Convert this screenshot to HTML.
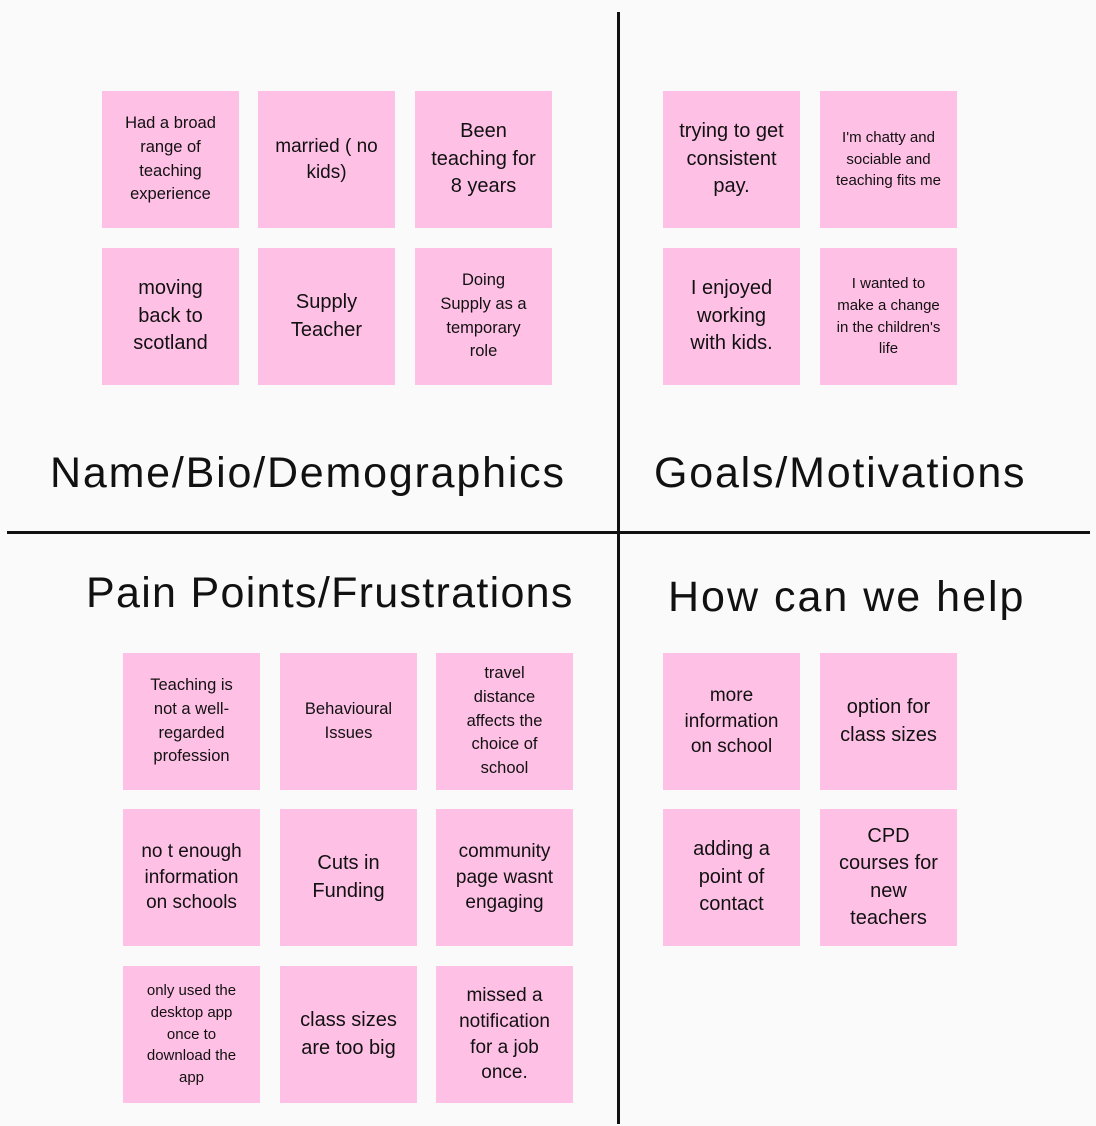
<!DOCTYPE html>
<html><head><meta charset="utf-8"><style>
body{margin:0;background:#fafafa;width:1096px;height:1126px;position:relative;overflow:hidden;font-family:"Liberation Sans",sans-serif;color:#111}
.n{position:absolute;width:137px;height:137px;background:#ffc0e5;display:flex;align-items:center;justify-content:center;text-align:center;box-sizing:border-box;padding:0 14px;line-height:1.3}
.s{font-size:16.5px;line-height:1.45}.m{font-size:19px;line-height:1.35}.l{font-size:20px;line-height:1.37}.xs{font-size:15px;line-height:1.45;padding:0 10px}
.t{position:absolute;font-size:43px;white-space:nowrap;line-height:1;letter-spacing:1.8px}
.v{position:absolute;left:617px;top:12px;width:3px;height:1112px;background:#111}
.h{position:absolute;left:7px;top:531px;width:1083px;height:3px;background:#111}
</style></head><body>
<div class="v"></div><div class="h"></div>
<div class="n s" style="left:102px;top:91px">Had a broad range of teaching experience</div>
<div class="n m" style="left:258px;top:91px">married ( no kids)</div>
<div class="n l" style="left:415px;top:91px">Been teaching for 8 years</div>
<div class="n l" style="left:102px;top:248px;padding:0 22px">moving back to scotland</div>
<div class="n l" style="left:258px;top:248px">Supply Teacher</div>
<div class="n s" style="left:415px;top:248px;padding:0 20px">Doing Supply as a temporary role</div>
<div class="n l" style="left:663px;top:91px">trying to get consistent pay.</div>
<div class="n xs" style="left:820px;top:91px;padding:0 12px">I'm chatty and sociable and teaching fits me</div>
<div class="n l" style="left:663px;top:248px;padding:0 20px">I enjoyed working with kids.</div>
<div class="n xs" style="left:820px;top:248px;padding:0 14px">I wanted to make a change in the children's life</div>
<div class="t" style="left:50px;top:452px">Name/Bio/Demographics</div>
<div class="t" style="left:654px;top:452px">Goals/Motivations</div>
<div class="t" style="left:86px;top:572px;letter-spacing:1.3px">Pain Points/Frustrations</div>
<div class="t" style="left:668px;top:576px;letter-spacing:2px">How can we help</div>
<div class="n s" style="left:123px;top:653px;padding:0 18px">Teaching is not a well-regarded profession</div>
<div class="n s" style="left:280px;top:653px">Behavioural Issues</div>
<div class="n s" style="left:436px;top:653px;padding:0 22px">travel distance affects the choice of school</div>
<div class="n m" style="left:123px;top:809px;padding:0 12px">no t enough information on schools</div>
<div class="n l" style="left:280px;top:809px">Cuts in Funding</div>
<div class="n m" style="left:436px;top:809px">community page wasnt engaging</div>
<div class="n xs" style="left:123px;top:966px;padding:0 14px">only used the desktop app once to download the app</div>
<div class="n l" style="left:280px;top:966px">class sizes are too big</div>
<div class="n m" style="left:436px;top:966px;padding:0 18px">missed a notification for a job once.</div>
<div class="n m" style="left:663px;top:653px;padding:0 16px">more information on school</div>
<div class="n l" style="left:820px;top:653px">option for class sizes</div>
<div class="n l" style="left:663px;top:809px">adding a point of contact</div>
<div class="n l" style="left:820px;top:809px;padding:0 14px">CPD courses for new teachers</div>
</body></html>
